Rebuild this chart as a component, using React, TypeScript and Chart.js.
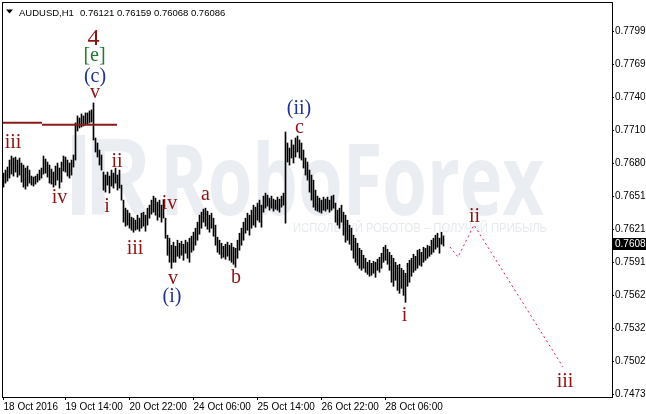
import React, { useEffect, useRef } from "react";
import { Chart, registerables } from "chart.js";

Chart.register(...registerables);

// ---------- DATA ----------
const symbolText = "AUDUSD,H1";
const lastBarOHLC = [0.76121, 0.76159, 0.76068, 0.76086];
const lastPriceLabel = "0.7608";

const barHighs = [
  0.76723, 0.7675, 0.76777, 0.7684, 0.76876, 0.76858, 0.76867, 0.7684, 0.76858, 0.76813,
  0.76795, 0.76768, 0.76786, 0.7675, 0.76696, 0.76687, 0.76696, 0.76714, 0.7675, 0.76768,
  0.76876, 0.76849, 0.76822, 0.76795, 0.76759, 0.76732, 0.76786, 0.76813, 0.76768, 0.76822,
  0.76876, 0.76867, 0.7684, 0.76813, 0.7684, 0.76885, 0.77173, 0.77236, 0.77218, 0.77254,
  0.77236, 0.77263, 0.77263, 0.77281, 0.7729, 0.77353, 0.77038, 0.76993, 0.7693, 0.76885,
  0.76732, 0.76705, 0.76732, 0.76696, 0.7675, 0.76723, 0.76768, 0.76705, 0.7675, 0.76615,
  0.7648, 0.76408, 0.7639, 0.76363, 0.76327, 0.76318, 0.763, 0.76345, 0.76318, 0.76363,
  0.76372, 0.76345, 0.76408, 0.76435, 0.7648, 0.76516, 0.76498, 0.76462, 0.7648, 0.76435,
  0.7648, 0.76318, 0.76165, 0.76138, 0.76075, 0.76102, 0.76066, 0.7612, 0.76093, 0.76111,
  0.76084, 0.7612, 0.76102, 0.76138, 0.76156, 0.76192, 0.76228, 0.76282, 0.76345, 0.76372,
  0.76399, 0.76408, 0.76381, 0.76345, 0.76363, 0.76318, 0.76255, 0.76147, 0.7612, 0.76093,
  0.76066, 0.76084, 0.76102, 0.76075, 0.76093, 0.76057, 0.76048, 0.7612, 0.76183, 0.76228,
  0.76282, 0.76318, 0.76363, 0.76345, 0.7639, 0.76435, 0.76417, 0.76453, 0.7648, 0.76435,
  0.76516, 0.76543, 0.76525, 0.76498, 0.76516, 0.76489, 0.7648, 0.76507, 0.76489, 0.76516,
  0.76543, 0.77092, 0.76993, 0.76948, 0.7702, 0.76975, 0.77038, 0.77056, 0.7702, 0.76993,
  0.7693, 0.76858, 0.76822, 0.7675, 0.76705, 0.7666, 0.7657, 0.76516, 0.76498, 0.7648,
  0.76507, 0.76489, 0.76507, 0.7648, 0.76516, 0.76525, 0.76453, 0.7639, 0.76408, 0.76435,
  0.76372, 0.76345, 0.763, 0.76255, 0.76228, 0.76165, 0.76138, 0.76093, 0.76048, 0.7603,
  0.75985, 0.75958, 0.75922, 0.7594, 0.75913, 0.75931, 0.75922, 0.75949, 0.75967, 0.76003,
  0.76057, 0.76075, 0.76039, 0.76012, 0.75985, 0.75958, 0.75922, 0.75895, 0.75904, 0.75868,
  0.7585, 0.75823, 0.75913, 0.7594, 0.75958, 0.75994, 0.75976, 0.7603, 0.76039, 0.76012,
  0.76057, 0.76048, 0.76075, 0.76066, 0.7612, 0.76138, 0.76165, 0.76183, 0.76138, 0.76192,
  0.76159,
];

const barLows = [
  0.76597, 0.76633, 0.76651, 0.76678, 0.76714, 0.76696, 0.76732, 0.76687, 0.76705, 0.76642,
  0.76597, 0.76579, 0.76606, 0.76633, 0.76615, 0.76606, 0.76624, 0.76642, 0.7666, 0.76678,
  0.76714, 0.76723, 0.76687, 0.76633, 0.76624, 0.76597, 0.76615, 0.7666, 0.76588, 0.76642,
  0.76741, 0.76732, 0.76696, 0.76678, 0.76705, 0.76777, 0.7684, 0.77101, 0.77128, 0.77137,
  0.77146, 0.77155, 0.77164, 0.77173, 0.77182, 0.7702, 0.76912, 0.76867, 0.76795, 0.7675,
  0.7657, 0.76552, 0.76615, 0.76543, 0.76606, 0.76588, 0.76633, 0.7657, 0.76588, 0.7648,
  0.76282, 0.76246, 0.76255, 0.76228, 0.7621, 0.76192, 0.7621, 0.76219, 0.76201, 0.76228,
  0.76246, 0.76201, 0.76255, 0.76318, 0.76354, 0.76372, 0.76345, 0.763, 0.76327, 0.76282,
  0.76318, 0.76138, 0.75985, 0.75922, 0.75868, 0.75922, 0.75922, 0.75976, 0.75958, 0.75985,
  0.7594, 0.76003, 0.75958, 0.75922, 0.76012, 0.7603, 0.76075, 0.7612, 0.76174, 0.76228,
  0.76282, 0.76246, 0.76219, 0.76192, 0.76228, 0.76156, 0.76075, 0.76012, 0.75994, 0.75958,
  0.75967, 0.75949, 0.75976, 0.7594, 0.75922, 0.75904, 0.75877, 0.75958, 0.7603, 0.76075,
  0.7612, 0.76183, 0.7621, 0.76165, 0.76228, 0.76255, 0.76237, 0.763, 0.76282, 0.76237,
  0.76372, 0.76408, 0.76426, 0.7639, 0.76408, 0.76381, 0.76399, 0.7639, 0.76372, 0.76417,
  0.76435, 0.76273, 0.76822, 0.76795, 0.76858, 0.76813, 0.76867, 0.76912, 0.76858, 0.7684,
  0.76768, 0.76705, 0.7666, 0.76552, 0.7648, 0.76417, 0.7639, 0.76381, 0.76372, 0.76363,
  0.7639, 0.76381, 0.76399, 0.76372, 0.7639, 0.76408, 0.76282, 0.76255, 0.76228, 0.76282,
  0.76165, 0.76102, 0.7612, 0.76084, 0.7603, 0.75958, 0.75922, 0.75895, 0.75868, 0.7585,
  0.75868, 0.75832, 0.75814, 0.75796, 0.75805, 0.75823, 0.75787, 0.7585, 0.75832, 0.75868,
  0.75922, 0.7594, 0.75904, 0.7585, 0.75742, 0.75706, 0.7576, 0.7567, 0.75643, 0.75688,
  0.75625, 0.75562, 0.75706, 0.75742, 0.75796, 0.75832, 0.7585, 0.75868, 0.75895, 0.75886,
  0.75922, 0.7594, 0.75958, 0.75976, 0.75994, 0.76012, 0.76039, 0.76057, 0.76003, 0.76084,
  0.76068,
];

const xTickIndex = [0, 31, 63, 95, 127, 159, 191];
const xTickLabels = [
  "18 Oct 2016",
  "19 Oct 14:00",
  "20 Oct 22:00",
  "24 Oct 06:00",
  "25 Oct 14:00",
  "26 Oct 22:00",
  "28 Oct 06:00",
];

const yTickValues = [
  0.74733, 0.75029, 0.75326, 0.75622, 0.75918, 0.76215, 0.76511, 0.76807, 0.77104, 0.774,
  0.77697, 0.77993,
];
const yTickLabels = [
  "0.7473", "0.7502", "0.7532", "0.7562", "0.7591", "0.7621", "0.7651", "0.7680", "0.7710",
  "0.7740", "0.7769", "0.7799",
];

// projected path (dotted)
const projectionX = [223.25, 227.25, 235.25, 279.75];
const projectionY = [0.76059, 0.75969, 0.76257, 0.74982];

// horizontal level lines
const level1X = [-0.75, 19.25];
const level1Y = [0.77175, 0.77175];
const level2X = [19.25, 56.75];
const level2Y = [0.77158, 0.77158];

// wave labels
const waveText = ["4", "[e]", "(c)", "v", "iii", "iv", "ii", "i", "iii", "iv", "a", "v", "(i)", "b", "(ii)", "c", "i", "ii", "iii"];
const waveX = [45, 45.5, 45.75, 45.75, 4.75, 28, 56.75, 51.75, 65.75, 83, 101, 84.75, 84.25, 116.25, 147.75, 148, 200.5, 235.5, 280.75];
const waveY = [0.77873, 0.7773, 0.77541, 0.77397, 0.76948, 0.76454, 0.76778, 0.76374, 0.75997, 0.76401, 0.76481, 0.75727, 0.75565, 0.75736, 0.77254, 0.77083, 0.75395, 0.76284, 0.74802];
const waveKind = ["big", "green", "blue", "red", "red", "red", "red", "red", "red", "red", "red", "red", "blue", "red", "blue", "red", "red", "red", "red"];

const RED = "#8b1414";
const BLUE = "#22328e";
const GREEN = "#1f7d2c";

const Y_MIN = 0.74712;
const Y_MAX = 0.782594;

const decorPlugin = {
  id: "decor",
  beforeDatasetsDraw(chart: any) {
    const { ctx, chartArea: a } = chart;
    ctx.save();
    ctx.beginPath();
    ctx.rect(a.left, a.top, a.right - a.left, a.bottom - a.top);
    ctx.clip();
    ctx.fillStyle = "#eaedf2";
    ctx.fillRect(72, 135, 13, 80);
    ctx.font = 'bold 110px "Liberation Sans"';
    ctx.textBaseline = "alphabetic";
    ctx.textAlign = "left";
    ctx.fillText("R", 86, 215, 64);
    ctx.font = 'bold 98px "Open Sans"';
    ctx.fillText("RoboForex", 160, 215, 384);
    ctx.fillStyle = "#e6e9ef";
    ctx.font = '12.5px "Liberation Sans"';
    ctx.fillText("ИСПОЛЬЗУЙ РОБОТОВ – ПОЛУЧАЙ ПРИБЫЛЬ", 293, 232, 254);
    ctx.restore();
  },
  afterDatasetsDraw(chart: any) {
    const { ctx } = chart;
    const xs = chart.scales.x;
    const ys = chart.scales.y;
    ctx.save();
    ctx.textAlign = "center";
    ctx.textBaseline = "alphabetic";
    for (let k = 0; k < waveText.length; k++) {
      const kind = waveKind[k];
      ctx.font = kind === "big" ? '24px "Liberation Serif"' : '20px "Liberation Serif"';
      ctx.fillStyle = kind === "blue" ? BLUE : kind === "green" ? GREEN : RED;
      ctx.fillText(waveText[k], xs.getPixelForValue(waveX[k]), ys.getPixelForValue(waveY[k]));
    }
    ctx.restore();
  },
  afterDraw(chart: any) {
    const { ctx, chartArea: a } = chart;
    const ys = chart.scales.y;
    ctx.save();
    // frame
    ctx.strokeStyle = "#000";
    ctx.lineWidth = 1;
    ctx.strokeRect(a.left + 0.5, a.top + 0.5, a.right - a.left, a.bottom - a.top);
    // header
    ctx.fillStyle = "#000";
    ctx.beginPath();
    ctx.moveTo(6, 9.5);
    ctx.lineTo(13, 9.5);
    ctx.lineTo(9.5, 13.5);
    ctx.closePath();
    ctx.fill();
    ctx.font = '9.5px "Liberation Sans"';
    ctx.textAlign = "left";
    ctx.textBaseline = "alphabetic";
    ctx.fillText(symbolText, 19, 15.5);
    ctx.fillText(lastBarOHLC.map((v) => v.toFixed(5)).join(" "), 80, 15.5);
    // current price box
    const close = lastBarOHLC[3];
    const py = Math.round(ys.getPixelForValue(close));
    ctx.fillStyle = "#000";
    ctx.fillRect(a.right + 1, py - 6, 646 - a.right - 1, 12);
    ctx.fillStyle = "#fff";
    ctx.font = '10px "Liberation Sans"';
    ctx.textBaseline = "middle";
    ctx.fillText(lastPriceLabel, a.right + 3, py + 0.5);
    ctx.restore();
  },
};

export default function App() {
  const ref = useRef<HTMLCanvasElement>(null);
  useEffect(() => {
    document.body.style.margin = "0";
    const canvas = ref.current!;
    const chart = new Chart(canvas, {
      type: "bar",
      data: {
        datasets: [
          {
            type: "line",
            data: projectionX.map((x, k) => ({ x, y: projectionY[k] })),
            borderColor: "#e8194f",
            borderWidth: 1,
            borderDash: [2, 3],
            pointRadius: 0,
            tension: 0,
            order: 1,
          } as any,
          {
            type: "line",
            data: level1X.map((x, k) => ({ x, y: level1Y[k] })),
            borderColor: "#8b1a1a",
            borderWidth: 2,
            pointRadius: 0,
            order: 1,
          } as any,
          {
            type: "line",
            data: level2X.map((x, k) => ({ x, y: level2Y[k] })),
            borderColor: "#8b1a1a",
            borderWidth: 2,
            pointRadius: 0,
            order: 1,
          } as any,
          {
            type: "bar",
            data: barHighs.map((h, i) => ({ x: i, y: [barLows[i], h] })),
            backgroundColor: "#000",
            borderWidth: 0,
            barThickness: 1,
            order: 2,
          } as any,
        ],
      },
      options: {
        responsive: false,
        animation: false,
        events: [],
        layout: { padding: { left: 2, top: 2, right: 0, bottom: 0 } },
        plugins: { legend: { display: false }, tooltip: { enabled: false } },
        scales: {
          x: {
            type: "linear",
            min: -0.75,
            max: 304.25,
            offset: false,
            position: "bottom",
            grid: { display: true, offset: false, drawOnChartArea: false, drawTicks: true, tickLength: 3, color: "#000" },
            border: { display: false },
            afterBuildTicks: (s: any) => {
              s.ticks = xTickIndex.map((v) => ({ value: v }));
            },
            afterFit: (s: any) => {
              s.height = 17;
              s.paddingLeft = 0;
              s.paddingRight = 0;
              s.paddingTop = 0;
              s.paddingBottom = 0;
            },
            ticks: {
              autoSkip: false,
              maxRotation: 0,
              minRotation: 0,
              align: "start",
              padding: 1,
              color: "#000",
              font: { family: "Liberation Sans", size: 10 },
              callback: (_v: any, i: number) => xTickLabels[i] ?? "",
            },
          },
          y: {
            type: "linear",
            position: "right",
            min: Y_MIN,
            max: Y_MAX,
            grid: { display: true, offset: false, drawOnChartArea: false, drawTicks: true, tickLength: 2, color: "#000" },
            border: { display: false },
            afterBuildTicks: (s: any) => {
              s.ticks = yTickValues.map((v) => ({ value: v }));
            },
            afterFit: (s: any) => {
              s.width = 34;
              s.paddingLeft = 0;
              s.paddingRight = 0;
              s.paddingTop = 0;
              s.paddingBottom = 0;
            },
            ticks: {
              autoSkip: false,
              padding: 1,
              color: "#000",
              font: { family: "Liberation Sans", size: 10 },
              callback: (_v: any, i: number) => yTickLabels[i] ?? "",
            },
          },
        },
      } as any,
      plugins: [decorPlugin],
    });
    return () => chart.destroy();
  }, []);
  return (
    <div style={{ position: "absolute", left: 0, top: 0, width: 646, height: 414, background: "#fff" }}>
      <canvas ref={ref} width={646} height={414} style={{ display: "block", width: 646, height: 414 }} />
    </div>
  );
}
